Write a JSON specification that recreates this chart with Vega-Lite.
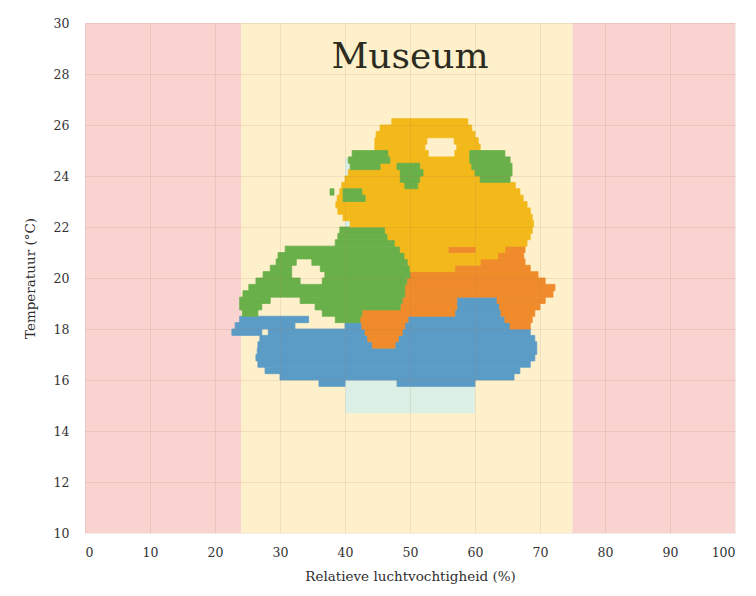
{
  "$schema": "https://vega.github.io/schema/vega-lite/v6.json",
  "width": 650,
  "height": 510,
  "autosize": "none",
  "padding": {"left": 85, "top": 23, "right": 21, "bottom": 63},
  "background": "white",
  "config": {
    "view": {"stroke": null},
    "axis": {
      "domain": false,
      "ticks": false,
      "grid": true,
      "gridColor": "#a8705a",
      "gridOpacity": 0.14,
      "labelFont": "DejaVu Serif",
      "labelFontSize": 12.5,
      "labelColor": "#333333",
      "titleFont": "DejaVu Serif",
      "titleFontSize": 13.5,
      "titleFontWeight": "normal",
      "titleColor": "#2e2e2e"
    },
    "axisX": {"labelPadding": 13, "titlePadding": 11},
    "axisY": {"labelPadding": 16, "titlePadding": 16}
  },
  "datasets": {
    "zones": [
      {"k": "buiten", "a": 0, "b": 24},
      {"k": "binnen", "a": 24, "b": 75},
      {"k": "buiten", "a": 75, "b": 100}
    ],
    "comfort": [
      {"a": 40, "b": 60, "lo": 14.7, "hi": 24.7}
    ],
    "cloud": [
      {"s": "Winter", "lo": 19.0, "hi": 19.25, "a": 57.2, "b": 63.4},
      {"s": "Winter", "lo": 18.75, "hi": 19.0, "a": 57.2, "b": 63.8},
      {"s": "Winter", "lo": 18.5, "hi": 18.75, "a": 56.9, "b": 64.0},
      {"s": "Winter", "lo": 18.25, "hi": 18.5, "a": 49.7, "b": 64.6},
      {"s": "Winter", "lo": 18.25, "hi": 18.5, "a": 23.8, "b": 34.4},
      {"s": "Winter", "lo": 18.0, "hi": 18.25, "a": 49.2, "b": 65.4},
      {"s": "Winter", "lo": 18.0, "hi": 18.25, "a": 23.1, "b": 32.3},
      {"s": "Winter", "lo": 18.0, "hi": 18.25, "a": 40.0, "b": 42.6},
      {"s": "Winter", "lo": 17.75, "hi": 18.0, "a": 22.6, "b": 27.2},
      {"s": "Winter", "lo": 17.75, "hi": 18.0, "a": 28.2, "b": 43.1},
      {"s": "Winter", "lo": 17.75, "hi": 18.0, "a": 48.8, "b": 68.5},
      {"s": "Winter", "lo": 17.5, "hi": 17.75, "a": 26.9, "b": 43.5},
      {"s": "Winter", "lo": 17.5, "hi": 17.75, "a": 48.2, "b": 69.2},
      {"s": "Winter", "lo": 17.25, "hi": 17.5, "a": 26.6, "b": 44.2},
      {"s": "Winter", "lo": 17.25, "hi": 17.5, "a": 47.7, "b": 69.5},
      {"s": "Winter", "lo": 17.0, "hi": 17.25, "a": 26.5, "b": 69.5},
      {"s": "Winter", "lo": 16.75, "hi": 17.0, "a": 26.3, "b": 69.2},
      {"s": "Winter", "lo": 16.5, "hi": 16.75, "a": 26.6, "b": 68.5},
      {"s": "Winter", "lo": 16.25, "hi": 16.5, "a": 27.7, "b": 66.9},
      {"s": "Winter", "lo": 16.0, "hi": 16.25, "a": 30.0, "b": 66.0},
      {"s": "Winter", "lo": 15.75, "hi": 16.0, "a": 36.0, "b": 40.0},
      {"s": "Winter", "lo": 15.75, "hi": 16.0, "a": 48.0, "b": 60.0},

      {"s": "Herfst", "lo": 21.0, "hi": 21.25, "a": 64.6, "b": 67.7},
      {"s": "Herfst", "lo": 20.75, "hi": 21.0, "a": 63.5, "b": 67.5},
      {"s": "Herfst", "lo": 20.5, "hi": 20.75, "a": 60.8, "b": 67.7},
      {"s": "Herfst", "lo": 20.25, "hi": 20.5, "a": 56.9, "b": 68.5},
      {"s": "Herfst", "lo": 20.0, "hi": 20.25, "a": 50.0, "b": 69.7},
      {"s": "Herfst", "lo": 19.75, "hi": 20.0, "a": 49.5, "b": 70.8},
      {"s": "Herfst", "lo": 19.5, "hi": 19.75, "a": 49.2, "b": 72.3},
      {"s": "Herfst", "lo": 19.25, "hi": 19.5, "a": 49.2, "b": 72.0},
      {"s": "Herfst", "lo": 19.0, "hi": 19.25, "a": 48.8, "b": 57.2},
      {"s": "Herfst", "lo": 19.0, "hi": 19.25, "a": 63.4, "b": 70.8},
      {"s": "Herfst", "lo": 18.75, "hi": 19.0, "a": 48.5, "b": 57.2},
      {"s": "Herfst", "lo": 18.75, "hi": 19.0, "a": 63.8, "b": 70.0},
      {"s": "Herfst", "lo": 18.5, "hi": 18.75, "a": 42.6, "b": 56.9},
      {"s": "Herfst", "lo": 18.5, "hi": 18.75, "a": 64.0, "b": 69.2},
      {"s": "Herfst", "lo": 18.25, "hi": 18.5, "a": 42.3, "b": 49.7},
      {"s": "Herfst", "lo": 18.25, "hi": 18.5, "a": 64.6, "b": 68.8},
      {"s": "Herfst", "lo": 18.0, "hi": 18.25, "a": 42.6, "b": 49.2},
      {"s": "Herfst", "lo": 18.0, "hi": 18.25, "a": 65.4, "b": 68.5},
      {"s": "Herfst", "lo": 17.75, "hi": 18.0, "a": 43.1, "b": 48.8},
      {"s": "Herfst", "lo": 17.5, "hi": 17.75, "a": 43.5, "b": 48.2},
      {"s": "Herfst", "lo": 17.25, "hi": 17.5, "a": 44.2, "b": 47.7},

      {"s": "Lente", "lo": 21.75, "hi": 22.0, "a": 39.2, "b": 46.2},
      {"s": "Lente", "lo": 21.5, "hi": 21.75, "a": 38.9, "b": 46.6},
      {"s": "Lente", "lo": 21.25, "hi": 21.5, "a": 38.5, "b": 47.7},
      {"s": "Lente", "lo": 21.0, "hi": 21.25, "a": 30.8, "b": 48.5},
      {"s": "Lente", "lo": 20.75, "hi": 21.0, "a": 29.7, "b": 49.2},
      {"s": "Lente", "lo": 20.5, "hi": 20.75, "a": 29.4, "b": 32.5},
      {"s": "Lente", "lo": 20.5, "hi": 20.75, "a": 34.9, "b": 49.7},
      {"s": "Lente", "lo": 20.25, "hi": 20.5, "a": 28.5, "b": 31.8},
      {"s": "Lente", "lo": 20.25, "hi": 20.5, "a": 36.2, "b": 50.0},
      {"s": "Lente", "lo": 20.0, "hi": 20.25, "a": 27.4, "b": 31.8},
      {"s": "Lente", "lo": 20.0, "hi": 20.25, "a": 36.9, "b": 50.0},
      {"s": "Lente", "lo": 19.75, "hi": 20.0, "a": 26.3, "b": 33.1},
      {"s": "Lente", "lo": 19.75, "hi": 20.0, "a": 36.5, "b": 49.5},
      {"s": "Lente", "lo": 19.5, "hi": 19.75, "a": 25.2, "b": 49.2},
      {"s": "Lente", "lo": 19.25, "hi": 19.5, "a": 24.3, "b": 49.2},
      {"s": "Lente", "lo": 19.0, "hi": 19.25, "a": 23.8, "b": 28.5},
      {"s": "Lente", "lo": 19.0, "hi": 19.25, "a": 33.1, "b": 48.8},
      {"s": "Lente", "lo": 18.75, "hi": 19.0, "a": 23.8, "b": 27.2},
      {"s": "Lente", "lo": 18.75, "hi": 19.0, "a": 35.4, "b": 48.5},
      {"s": "Lente", "lo": 18.5, "hi": 18.75, "a": 24.2, "b": 26.6},
      {"s": "Lente", "lo": 18.5, "hi": 18.75, "a": 36.5, "b": 42.6},
      {"s": "Lente", "lo": 18.25, "hi": 18.5, "a": 38.5, "b": 42.3},

      {"s": "Zomer", "lo": 26.0, "hi": 26.25, "a": 47.2, "b": 58.9},
      {"s": "Zomer", "lo": 25.75, "hi": 26.0, "a": 45.4, "b": 59.5},
      {"s": "Zomer", "lo": 25.5, "hi": 25.75, "a": 44.8, "b": 60.0},
      {"s": "Zomer", "lo": 25.25, "hi": 25.5, "a": 44.6, "b": 52.6},
      {"s": "Zomer", "lo": 25.25, "hi": 25.5, "a": 56.8, "b": 60.5},
      {"s": "Zomer", "lo": 25.0, "hi": 25.25, "a": 44.6, "b": 52.3},
      {"s": "Zomer", "lo": 25.0, "hi": 25.25, "a": 57.2, "b": 60.8},
      {"s": "Zomer", "lo": 24.75, "hi": 25.0, "a": 44.5, "b": 52.8},
      {"s": "Zomer", "lo": 24.75, "hi": 25.0, "a": 56.9, "b": 59.5},
      {"s": "Zomer", "lo": 24.5, "hi": 24.75, "a": 44.2, "b": 59.5},
      {"s": "Zomer", "lo": 24.25, "hi": 24.5, "a": 42.3, "b": 60.0},
      {"s": "Zomer", "lo": 24.0, "hi": 24.25, "a": 40.5, "b": 60.5},
      {"s": "Zomer", "lo": 23.75, "hi": 24.0, "a": 40.0, "b": 64.6},
      {"s": "Zomer", "lo": 23.5, "hi": 23.75, "a": 39.5, "b": 66.2},
      {"s": "Zomer", "lo": 23.25, "hi": 23.5, "a": 39.2, "b": 66.9},
      {"s": "Zomer", "lo": 23.0, "hi": 23.25, "a": 38.8, "b": 67.4},
      {"s": "Zomer", "lo": 22.75, "hi": 23.0, "a": 38.6, "b": 68.0},
      {"s": "Zomer", "lo": 22.5, "hi": 22.75, "a": 38.9, "b": 68.5},
      {"s": "Zomer", "lo": 22.25, "hi": 22.5, "a": 39.7, "b": 68.8},
      {"s": "Zomer", "lo": 22.0, "hi": 22.25, "a": 40.8, "b": 69.0},
      {"s": "Zomer", "lo": 21.75, "hi": 22.0, "a": 46.2, "b": 68.8},
      {"s": "Zomer", "lo": 21.5, "hi": 21.75, "a": 46.6, "b": 68.5},
      {"s": "Zomer", "lo": 21.25, "hi": 21.5, "a": 47.7, "b": 68.0},
      {"s": "Zomer", "lo": 21.0, "hi": 21.25, "a": 48.5, "b": 64.6},
      {"s": "Zomer", "lo": 20.75, "hi": 21.0, "a": 49.2, "b": 63.5},
      {"s": "Zomer", "lo": 20.5, "hi": 20.75, "a": 49.7, "b": 60.8},
      {"s": "Zomer", "lo": 20.25, "hi": 20.5, "a": 50.0, "b": 56.9},

      {"s": "Lente", "lo": 24.75, "hi": 25.0, "a": 41.1, "b": 46.6},
      {"s": "Lente", "lo": 24.75, "hi": 25.0, "a": 59.2, "b": 64.6},
      {"s": "Lente", "lo": 24.5, "hi": 24.75, "a": 40.5, "b": 46.9},
      {"s": "Lente", "lo": 24.5, "hi": 24.75, "a": 59.2, "b": 65.4},
      {"s": "Lente", "lo": 24.25, "hi": 24.5, "a": 40.8, "b": 45.4},
      {"s": "Lente", "lo": 24.25, "hi": 24.5, "a": 48.0, "b": 51.5},
      {"s": "Lente", "lo": 24.25, "hi": 24.5, "a": 59.5, "b": 65.7},
      {"s": "Lente", "lo": 24.0, "hi": 24.25, "a": 48.5, "b": 52.0},
      {"s": "Lente", "lo": 24.0, "hi": 24.25, "a": 60.0, "b": 65.7},
      {"s": "Lente", "lo": 23.75, "hi": 24.0, "a": 48.5, "b": 51.5},
      {"s": "Lente", "lo": 23.75, "hi": 24.0, "a": 60.8, "b": 65.4},
      {"s": "Lente", "lo": 23.5, "hi": 23.75, "a": 49.2, "b": 51.2},
      {"s": "Lente", "lo": 23.25, "hi": 23.5, "a": 39.7, "b": 42.6},
      {"s": "Lente", "lo": 23.25, "hi": 23.5, "a": 37.7, "b": 38.3},
      {"s": "Lente", "lo": 23.0, "hi": 23.25, "a": 39.7, "b": 43.1},

      {"s": "Herfst", "lo": 21.0, "hi": 21.2, "a": 56.0, "b": 60.0}
    ]
  },
  "layer": [
    {
      "data": {"name": "zones"},
      "mark": {"type": "rect"},
      "encoding": {
        "x": {
          "field": "a",
          "type": "quantitative",
          "title": "Relatieve luchtvochtigheid (%)",
          "scale": {"domain": [0, 100], "nice": false},
          "axis": {"values": [0, 10, 20, 30, 40, 50, 60, 70, 80, 90, 100], "zindex": 1}
        },
        "x2": {"field": "b"},
        "color": {
          "field": "k",
          "type": "nominal",
          "scale": {"domain": ["buiten", "binnen"], "range": ["#f8d3cf", "#fdf0cb"]},
          "legend": null
        }
      }
    },
    {
      "data": {"name": "comfort"},
      "mark": {"type": "rect", "color": "#dcefe5"},
      "encoding": {
        "x": {"field": "a", "type": "quantitative", "title": "Relatieve luchtvochtigheid (%)"},
        "x2": {"field": "b"},
        "y": {
          "field": "lo",
          "type": "quantitative",
          "title": "Temperatuur (°C)",
          "scale": {"domain": [10, 30], "nice": false},
          "axis": {"values": [10, 12, 14, 16, 18, 20, 22, 24, 26, 28, 30], "zindex": 1}
        },
        "y2": {"field": "hi"}
      }
    },
    {
      "data": {"name": "cloud"},
      "mark": {"type": "rect", "strokeWidth": 0.8},
      "encoding": {
        "x": {"field": "a", "type": "quantitative", "title": "Relatieve luchtvochtigheid (%)"},
        "x2": {"field": "b"},
        "y": {"field": "lo", "type": "quantitative", "title": "Temperatuur (°C)"},
        "y2": {"field": "hi"},
        "color": {
          "field": "s",
          "type": "nominal",
          "scale": {
            "domain": ["Winter", "Lente", "Zomer", "Herfst"],
            "range": ["#5b9cc6", "#6ab04a", "#f3b91b", "#f08b2c"]
          },
          "legend": null
        },
        "stroke": {
          "field": "s",
          "type": "nominal",
          "scale": {
            "domain": ["Winter", "Lente", "Zomer", "Herfst"],
            "range": ["#5b9cc6", "#6ab04a", "#f3b91b", "#f08b2c"]
          },
          "legend": null
        }
      }
    },
    {
      "data": {"values": [{"label": "Museum"}]},
      "mark": {
        "type": "text",
        "font": "DejaVu Serif",
        "fontSize": 36,
        "color": "#2c2b20",
        "align": "center",
        "baseline": "alphabetic"
      },
      "encoding": {
        "x": {"datum": 50, "type": "quantitative"},
        "y": {"datum": 28.25, "type": "quantitative"},
        "text": {"field": "label", "type": "nominal"}
      }
    }
  ],
  "resolve": {"scale": {"color": "independent"}}
}
